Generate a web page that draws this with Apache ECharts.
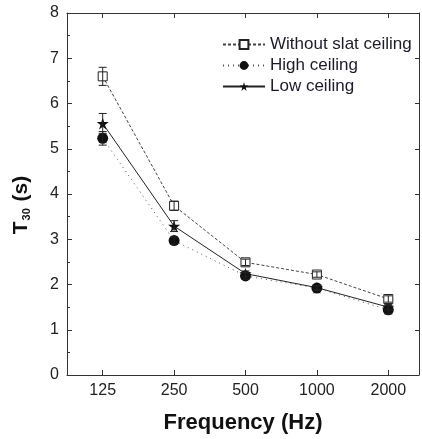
<!DOCTYPE html>
<html><head><meta charset="utf-8">
<script src="https://cdn.jsdelivr.net/npm/echarts@6/dist/echarts.min.js"></script>
<style>html,body{margin:0;padding:0;background:#fff;}#c{width:422px;height:439px;}</style>
</head><body><div id="c"></div>
<script>
const categories = ['125', '250', '500', '1000', '2000'];
const withoutSlat = [6.60, 3.74, 2.49, 2.22, 1.68];
const withoutSlatErr = [0.20, 0.10, 0.07, 0.06, 0.07];
const highCeiling = [5.23, 2.97, 2.19, 1.92, 1.44];
const highCeilingErr = [0.15, 0.08, 0.07, 0.05, 0.09];
const lowCeiling = [5.56, 3.29, 2.24, 1.93, 1.50];
const lowCeilingErr = [0.22, 0.12, 0.06, 0.05, 0.06];
const yTicks = [0, 8, 1];

const STAR = 'path://M50,0 L61,35 L98,35 L68,57 L79,91 L50,70 L21,91 L32,57 L2,35 L39,35 Z';
const FONT = 'Liberation Sans, Arial, sans-serif';

function pts(vals) { return vals.map((v, i) => [i, v]); }
function errPts(vals, errs) { return vals.map((v, i) => [i, v, errs[i]]); }
function errRender(params, api) {
  const i = api.value(0), v = api.value(1), e = api.value(2);
  const hi = api.coord([i, v + e]);
  const lo = api.coord([i, v - e]);
  const cw = 4;
  const st = { stroke: '#222', lineWidth: 1 };
  return { type: 'group', children: [
    { type: 'line', shape: { x1: hi[0], y1: hi[1], x2: lo[0], y2: lo[1] }, style: st },
    { type: 'line', shape: { x1: hi[0] - cw, y1: hi[1], x2: hi[0] + cw, y2: hi[1] }, style: st },
    { type: 'line', shape: { x1: lo[0] - cw, y1: lo[1], x2: lo[0] + cw, y2: lo[1] }, style: st }
  ]};
}

const chart = echarts.init(document.getElementById('c'), null, { renderer: 'canvas' });
const axisLine = { show: true, onZero: false, lineStyle: { color: '#333', width: 1 } };
const xCommon = { type: 'value', min: -0.5, max: 4.43, splitLine: { show: false } };
chart.setOption({
  animation: false,
  backgroundColor: '#fff',
  grid: { left: 67, right: 0, top: 13, bottom: 64 },
  legend: {
    data: ['Without slat ceiling', 'High ceiling', 'Low ceiling'],
    orient: 'vertical', left: 217, top: 31, itemWidth: 42, itemHeight: 11, itemGap: 4,
    align: 'left',
    textStyle: { fontSize: 17, fontFamily: FONT, color: '#1c1c28' }
  },
  xAxis: [
    Object.assign({}, xCommon, {
      position: 'bottom',
      axisLine: axisLine,
      axisTick: { show: true, inside: true, length: 5, lineStyle: { color: '#333' } },
      axisLabel: { margin: 8, fontSize: 16, fontFamily: FONT, color: '#222',
        formatter: v => (Number.isInteger(v) && categories[v] !== undefined) ? categories[v] : '' },
      name: 'Frequency (Hz)', nameLocation: 'middle', nameGap: 37,
      nameTextStyle: { fontSize: 22, fontWeight: 'bold', fontFamily: FONT, color: '#111' }
    }),
    Object.assign({}, xCommon, {
      position: 'top',
      axisLine: axisLine,
      axisTick: { show: true, inside: true, length: 5, lineStyle: { color: '#333' } },
      axisLabel: { show: false }
    })
  ],
  yAxis: [
    {
      type: 'value', min: yTicks[0], max: yTicks[1], interval: yTicks[2], position: 'left',
      axisLine: axisLine, splitLine: { show: false },
      axisTick: { show: true, inside: true, length: 5, lineStyle: { color: '#333' } },
      minorTick: { show: true, splitNumber: 2, length: 3, lineStyle: { color: '#333' } },
      axisLabel: { margin: 8, fontSize: 16, fontFamily: FONT, color: '#222' },
      name: 'T{sub|30} (s)', nameLocation: 'middle', nameGap: 35, nameRotate: 90,
      nameTextStyle: { fontSize: 21, fontWeight: 'bold', fontFamily: FONT, color: '#111',
        padding: [0, 22, 0, 0],
        rich: { sub: { fontSize: 11, fontWeight: 'bold', fontFamily: FONT, color: '#111', verticalAlign: 'bottom', padding: [9, 1, 0, 1] } } }
    },
    {
      type: 'value', min: yTicks[0], max: yTicks[1], interval: yTicks[2], position: 'right',
      axisLine: axisLine, splitLine: { show: false },
      axisTick: { show: true, inside: true, length: 4, lineStyle: { color: '#333' } },
      axisLabel: { show: false }
    }
  ],
  series: [
    { name: 'Low ceiling', type: 'line', data: pts(lowCeiling), z: 3,
      symbol: STAR, symbolSize: 12, itemStyle: { color: '#111' },
      lineStyle: { color: '#222', width: 1, type: 'solid' } },
    { name: 'High ceiling', type: 'line', data: pts(highCeiling), z: 4,
      symbol: 'circle', symbolSize: 11, itemStyle: { color: '#111' },
      lineStyle: { color: '#555', width: 1, type: [1, 4] } },
    { name: 'Without slat ceiling', type: 'line', data: pts(withoutSlat), z: 5,
      symbol: 'rect', symbolSize: 9, itemStyle: { color: '#fff', borderColor: '#222', borderWidth: 1 },
      lineStyle: { color: '#444', width: 1, type: [3, 2] } },
    { type: 'custom', renderItem: errRender, data: errPts(lowCeiling, lowCeilingErr), z: 6,
      encode: { x: 0, y: 1 } },
    { type: 'custom', renderItem: errRender, data: errPts(highCeiling, highCeilingErr), z: 6,
      encode: { x: 0, y: 1 } },
    { type: 'custom', renderItem: errRender, data: errPts(withoutSlat, withoutSlatErr), z: 6,
      encode: { x: 0, y: 1 } }
  ]
});
</script></body></html>
